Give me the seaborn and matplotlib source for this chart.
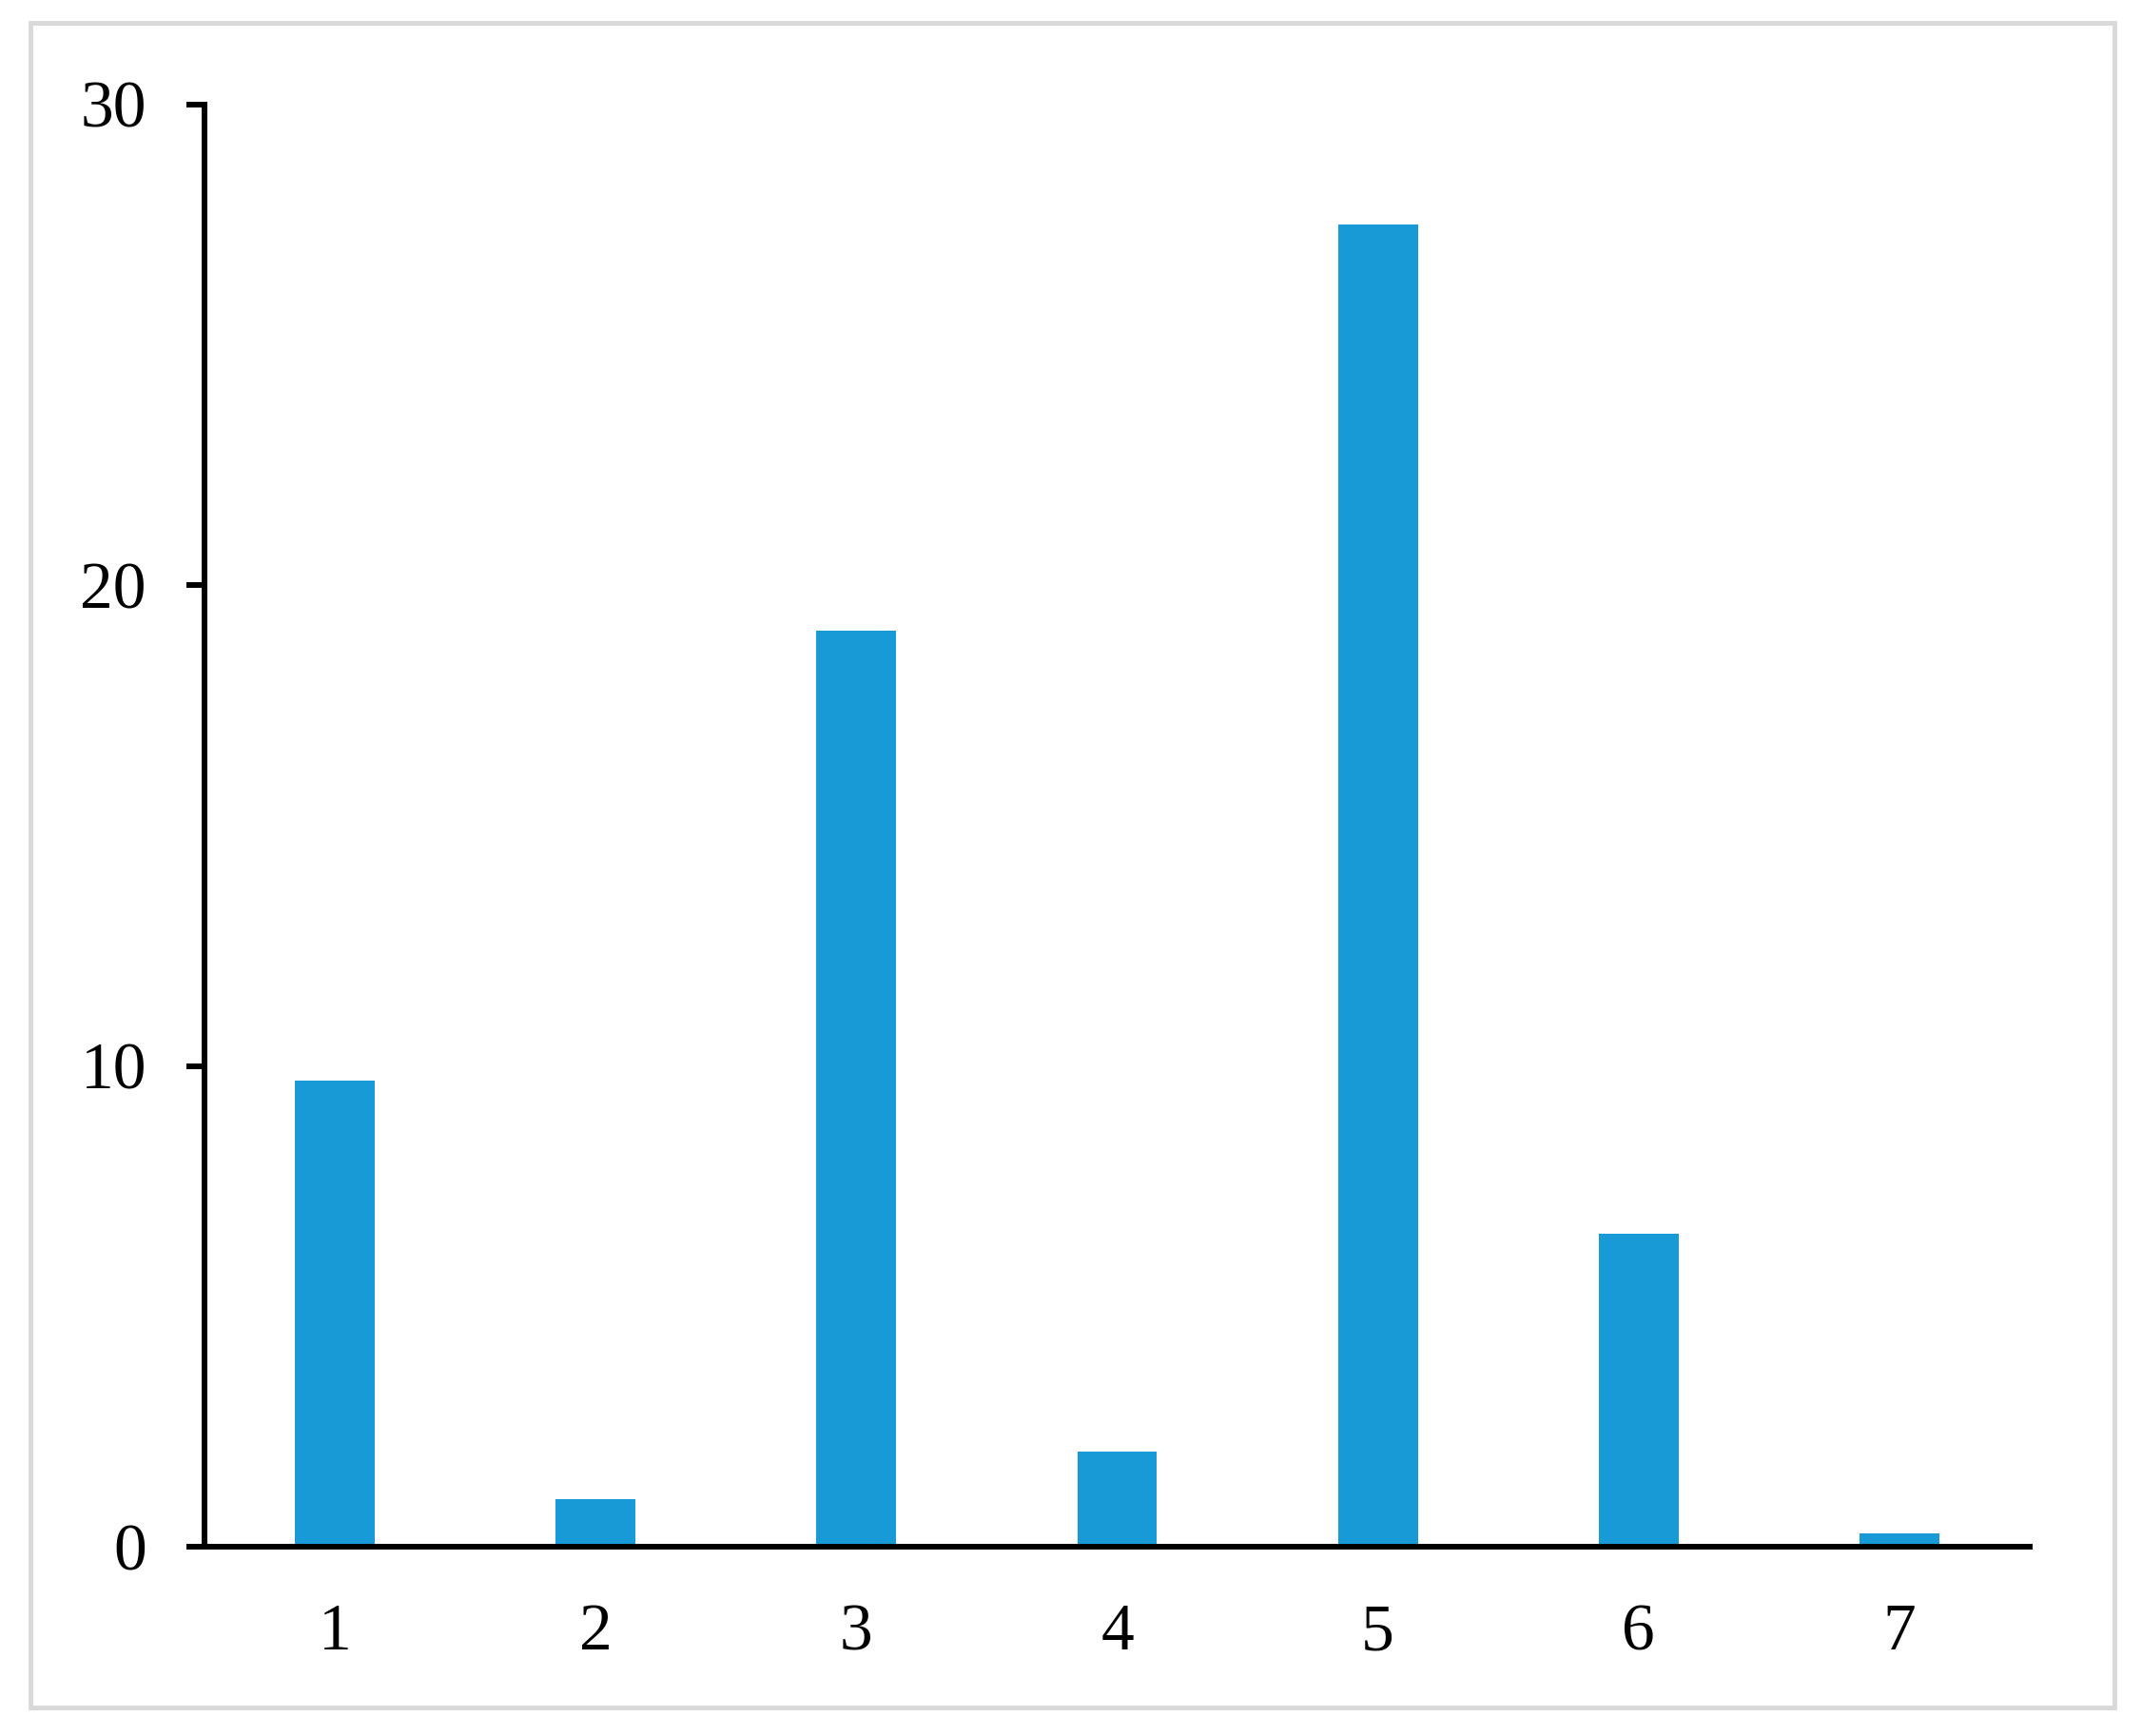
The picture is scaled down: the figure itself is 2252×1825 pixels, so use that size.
import matplotlib
matplotlib.use("Agg")
import matplotlib.pyplot as plt
import seaborn as sns
import pandas as pd
from matplotlib.patches import Rectangle
from matplotlib.ticker import FixedLocator, NullFormatter

categories = ["1", "2", "3", "4", "5", "6", "7"]
values = [9.7, 1.0, 19.05, 1.97, 27.5, 6.5, 0.27]
y_ticks = [0, 10, 20, 30]

sns.set_theme(style="white")
plt.rcParams['font.family'] = ['Liberation Serif', 'DejaVu Serif']

df = pd.DataFrame({"cat": categories, "val": values})

fig = plt.figure(figsize=(22.52, 18.25), dpi=100)
ax = fig.add_axes([0.0955, 0.109, 0.9476 - 0.0955, 0.940 - 0.109])

sns.barplot(data=df, x="cat", y="val", color="#189AD6", saturation=1,
            width=0.306, ax=ax, linewidth=0)

ax.set_xlim(-0.5, len(categories) - 0.5)
ax.set_ylim(0, 30)
ax.set_yticks(y_ticks)
ax.set_xlabel("")
ax.set_ylabel("")

for s in ["top", "right"]:
    ax.spines[s].set_visible(False)
for s in ["left", "bottom"]:
    ax.spines[s].set_color("black")
    ax.spines[s].set_linewidth(4.3)
    ax.spines[s].set_capstyle("projecting")

# x: labels at centers without tick marks, marks at category boundaries
ax.tick_params(axis="x", which="major", length=0, pad=43, labelsize=50, colors="black")
ax.xaxis.set_minor_locator(FixedLocator([i - 0.5 for i in range(len(categories) + 1)]))
ax.xaxis.set_minor_formatter(NullFormatter())
ax.tick_params(axis="x", which="minor", length=14, width=4.3, direction="out", color="black")
ax.tick_params(axis="y", which="major", length=14, width=4.3, direction="out",
               pad=30, labelsize=50, colors="black", left=True)

fig.patches.append(Rectangle((32 / 2252, 1 - 1795 / 1825), (2223 - 32) / 2252, (1795 - 24) / 1825,
                             transform=fig.transFigure, fill=False,
                             edgecolor="#d9d9d9", linewidth=3.5))

fig.savefig("out.png", dpi=100, facecolor="white")
